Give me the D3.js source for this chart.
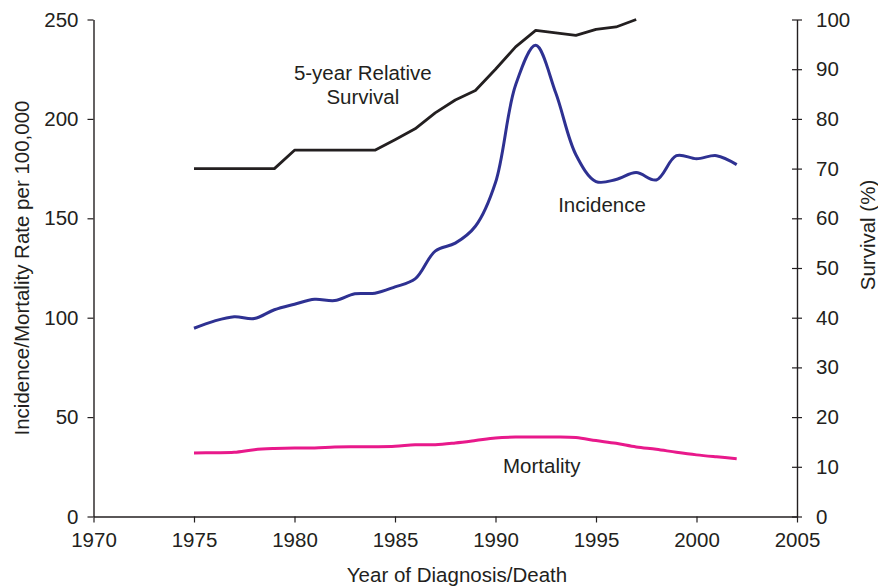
<!DOCTYPE html>
<html>
<head>
<meta charset="utf-8">
<script src="https://cdn.jsdelivr.net/npm/d3@7/dist/d3.min.js"></script>
<style>
  html, body { margin: 0; padding: 0; background: #fff; }
  text { font-family: "Liberation Sans", Arial, Helvetica, sans-serif; fill: #231f20; }
</style>
</head>
<body>
<svg id="chart" width="878" height="586"></svg>
<script>
// ---- Data ----
const years = [1975,1976,1977,1978,1979,1980,1981,1982,1983,1984,1985,1986,1987,1988,1989,1990,1991,1992,1993,1994,1995,1996,1997,1998,1999,2000,2001,2002];
const incidence = [94.7,98.3,100.5,99.6,104,106.8,109.3,108.6,112,112.3,115.5,119.5,133.5,137.5,146,168,217,237,213,182,168.5,169.5,173,169.3,181.5,180,181.5,177];
const mortality = [32,32.1,32.3,33.6,34.2,34.5,34.5,35,35.1,35.1,35.3,36.1,36.1,37,38.2,39.5,40,40,40,39.7,38.2,36.8,35,33.8,32.3,31,30,29.1];
const survivalYears = [1975,1976,1977,1978,1979,1980,1981,1982,1983,1984,1985,1986,1987,1988,1989,1990,1991,1992,1993,1994,1995,1996,1997];
const survival = [70,70,70,70,70,73.7,73.7,73.7,73.7,73.7,75.8,78,81.2,83.8,85.7,90,94.5,97.8,97.3,96.8,98,98.5,100];
const xTicks = [1970,1975,1980,1985,1990,1995,2000,2005];
const leftTicks = [0,50,100,150,200,250];
const rightTicks = [0,10,20,30,40,50,60,70,80,90,100];

// ---- Layout ----
const svg = d3.select("#chart");
const x = d3.scaleLinear().domain([1970, 2005]).range([93.5, 797]);
const yL = d3.scaleLinear().domain([0, 250]).range([516.5, 19.5]);
const yR = d3.scaleLinear().domain([0, 100]).range([516.5, 19.5]);
const ink = "#231f20";
const fs = "20.5px";

// Bottom axis
const gx = svg.append("g").attr("transform", `translate(0,${yL(0)})`)
  .call(d3.axisBottom(x).tickValues(xTicks).tickFormat(d3.format("d")).tickSize(6).tickSizeOuter(0).tickPadding(10));
// Left axis
const gl = svg.append("g").attr("transform", `translate(${x(1970)},0)`)
  .call(d3.axisLeft(yL).tickValues(leftTicks).tickSize(6).tickSizeOuter(0).tickPadding(9));
// Right axis
const gr = svg.append("g").attr("transform", `translate(${x(2005)},0)`)
  .call(d3.axisRight(yR).tickValues(rightTicks).tickSize(5).tickSizeOuter(0).tickPadding(14));
gr.selectAll(".tick line").attr("x1", -5).attr("x2", 5);

[gx, gl, gr].forEach(g => {
  g.selectAll("path.domain").attr("stroke", ink).attr("stroke-width", 1.4);
  g.selectAll(".tick line").attr("stroke", ink).attr("stroke-width", 1.2);
  g.selectAll(".tick text").style("font-size", fs).attr("fill", ink)
    .style("font-family", '"Liberation Sans", Arial, sans-serif');
});

// Lines
const lineInc = d3.line().x((d, i) => x(years[i])).y(d => yL(d)).curve(d3.curveCatmullRom.alpha(0.5));
const lineSurv = d3.line().x((d, i) => x(survivalYears[i])).y(d => yR(d));

svg.append("path").datum(mortality).attr("d", lineInc)
  .attr("fill", "none").attr("stroke", "#e8198b").attr("stroke-width", 3).attr("stroke-linejoin", "round");
svg.append("path").datum(incidence).attr("d", lineInc)
  .attr("fill", "none").attr("stroke", "#2e3192").attr("stroke-width", 3).attr("stroke-linejoin", "round");
svg.append("path").datum(survival).attr("d", lineSurv)
  .attr("fill", "none").attr("stroke", "#231f20").attr("stroke-width", 2.8).attr("stroke-linejoin", "round");

// Annotations
function label(t, yr, v, anchor) {
  svg.append("text").attr("x", x(yr)).attr("y", yL(v)).attr("text-anchor", anchor || "middle")
    .style("font-size", fs).text(t);
}
label("5-year Relative", 1983.4, 219.4);
label("Survival", 1983.4, 207.3);
label("Incidence", 1995.3, 153.1);
label("Mortality", 1992.3, 22.1);

// Axis titles
svg.append("text").attr("x", 457).attr("y", 582)
  .attr("text-anchor", "middle").style("font-size", fs).text("Year of Diagnosis/Death");
svg.append("text").attr("transform", `translate(29,${(yL(0) + yL(250)) / 2}) rotate(-90)`)
  .attr("text-anchor", "middle").style("font-size", fs).text("Incidence/Mortality Rate per 100,000");
svg.append("text").attr("transform", `translate(875,${(yL(0) + yL(250)) / 2 - 33}) rotate(-90)`)
  .attr("text-anchor", "middle").style("font-size", fs).text("Survival (%)");
</script>
</body>
</html>
